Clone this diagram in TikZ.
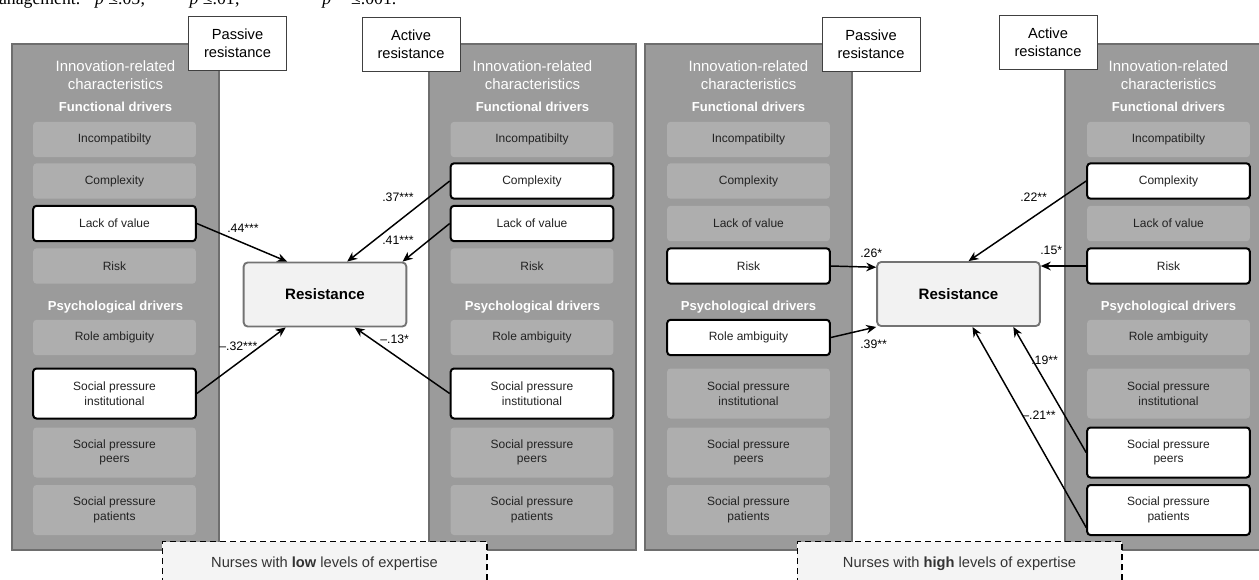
\documentclass[tikz,border=0pt]{standalone}
\usepackage{fontspec}
\setmainfont{Liberation Sans}
\newfontfamily\capserif{Liberation Serif}
\usetikzlibrary{arrows.meta}

\definecolor{panelgrey}{HTML}{9B9B9B}
\definecolor{paneledge}{HTML}{6E6E6E}
\definecolor{itemgrey}{HTML}{AEAEAE}
\definecolor{itemtext}{HTML}{222222}
\definecolor{resfill}{HTML}{F2F2F2}
\definecolor{notefill}{HTML}{F4F4F4}

\tikzset{
  panel/.style={draw=paneledge, fill=panelgrey, line width=0.9pt},
  tagbox/.style={draw=black!75, fill=white, line width=0.6pt, minimum width=73.5pt,
    minimum height=40.5pt, inner sep=0pt, align=center, font=\fontsize{11}{13.5}\selectfont},
  headtxt/.style={text=white, align=center, font=\fontsize{11.2}{13.5}\selectfont},
  subtxt/.style={text=white, font=\fontsize{9.8}{11}\selectfont\bfseries},
  drvbox/.style={fill=itemgrey, rounded corners=2.5pt, minimum width=122pt,
    minimum height=26.5pt, inner sep=0pt, align=center, text=itemtext,
    font=\fontsize{9}{11}\selectfont},
  drvon/.style={drvbox, fill=white, draw=black, line width=1.5pt},
  twoline/.style={minimum height=37.5pt},
  resbox/.style={draw=black!55, fill=resfill, line width=1.4pt, rounded corners=3pt,
    minimum width=122pt, minimum height=48pt, font=\fontsize{11.3}{13}\selectfont\bfseries},
  notebox/.style={draw=black, fill=notefill, line width=1pt, dash pattern=on 4.5pt off 3pt,
    minimum width=243.5pt, minimum height=33pt, text=black!80, font=\fontsize{11}{13}\selectfont},
  effect/.style={-{Stealth[length=7.5pt,width=6.5pt]}, line width=1.1pt},
  coef/.style={anchor=west, inner sep=0pt, font=\fontsize{9.2}{10}\selectfont},
  captxt/.style={inner sep=0pt, font=\capserif\fontsize{13.3}{15}\selectfont}
}

\begin{document}
\begin{tikzpicture}[x=0.75pt, y=-0.75pt]
  \useasboundingbox (0,0) rectangle (1259,579);
  \clip (0,0) rectangle (1259,579);

  % caption line, cut by the top edge
  \node[captxt, anchor=base west] (cap) at (-15,4.5)
    {management. *\textit{p} ≤.05;\hspace{20pt}**\textit{p} ≤.01;\hspace{42pt}***\textit{p}\hspace{15pt}≤.001.};

  % grey panels with their headings
  \foreach \px/\pn in {12/a,429/b,645/c,1065/d} {
    \draw[panel] (\px,44) rectangle ++(207,506);
    \node[headtxt] (\pn-head) at (\px+103.5,75) {Innovation-related\\characteristics};
    \node[subtxt] (\pn-fun) at (\px+103.5,107) {Functional drivers};
    \node[subtxt] (\pn-psy) at (\px+103.5,307.5) {Psychological drivers};
  }

  % drivers, highlighted ones get drvon
  \foreach \pn/\px/\stA/\stB/\stC/\stD/\stE/\stF/\stG/\stH in {
      a/114.5/drvbox/drvbox/drvon/drvbox/drvbox/drvon/drvbox/drvbox,
      b/532/drvbox/drvon/drvon/drvbox/drvbox/drvon/drvbox/drvbox,
      c/748.5/drvbox/drvbox/drvbox/drvon/drvon/drvbox/drvbox/drvbox,
      d/1168.5/drvbox/drvon/drvbox/drvon/drvbox/drvbox/drvon/drvon} {
    \node[\stA] (\pn1) at (\px,139.5) {Incompatibilty};
    \node[\stB] (\pn2) at (\px,181) {Complexity};
    \node[\stC] (\pn3) at (\px,223.5) {Lack of value};
    \node[\stD] (\pn4) at (\px,266) {Risk};
    \node[\stE] (\pn5) at (\px,337.5) {Role ambiguity};
    \node[\stF, twoline] (\pn6) at (\px,393.5) {Social pressure\\institutional};
    \node[\stG, twoline] (\pn7) at (\px,452.5) {Social pressure\\peers};
    \node[\stH, twoline] (\pn8) at (\px,510) {Social pressure\\patients};
  }

  % resistance type tags
  \node[tagbox] (a-tag) at (237.5,43.5) {Passive\\resistance};
  \node[tagbox] (b-tag) at (411,44) {Active\\resistance};
  \node[tagbox] (c-tag) at (871,44.5) {Passive\\resistance};
  \node[tagbox] (d-tag) at (1048,42) {Active\\resistance};

  % outcome
  \node[resbox] (a-res) at (325,294.5) {Resistance};
  \node[resbox] (c-res) at (958.5,294) {Resistance};

  % low expertise
  \draw[effect] (a3.east) -- (a-res.139.5);
  \draw[effect] (a6.east) -- (a-res.220.5);
  \draw[effect] (b2.west) -- (a-res.56);
  \draw[effect] (b3.west) -- (a-res.23);
  \draw[effect] (b6.west) -- (a-res.312.7);
  \node[coef] (a3-coef) at (227,228) {.44***};
  \node[coef] (a6-coef) at (219,346) {\textendash.32***};
  \node[coef] (b2-coef) at (382,197) {.37***};
  \node[coef] (b3-coef) at (382,240) {.41***};
  \node[coef] (b6-coef) at (380,339) {\textendash.13*};

  % high expertise
  \draw[effect] (c4.east) -- (c-res.162);
  \draw[effect] (c5.east) -- (c-res.south west);
  \draw[effect] (d2.west) -- (c-res.73.5);
  \draw[effect] (d4.west) -- (d4.west -| c-res.east);
  \draw[effect] (d7.west) -- (c-res.329);
  \draw[effect] (d8.192) -- (c-res.293);
  \node[coef] (c4-coef) at (860,253) {.26*};
  \node[coef] (c5-coef) at (860,344) {.39**};
  \node[coef] (d2-coef) at (1020,197) {.22**};
  \node[coef] (d4-coef) at (1040,250) {.15*};
  \node[coef] (d7-coef) at (1031,360) {.19**};
  \node[coef] (d8-coef) at (1022,415) {\textendash.21**};

  % groups
  \node[notebox, anchor=north] (a-note) at (324.5,541) {Nurses with \textbf{low} levels of expertise};
  \node[notebox, anchor=north] (c-note) at (959.5,541) {Nurses with \textbf{high} levels of expertise};
\end{tikzpicture}
\end{document}
